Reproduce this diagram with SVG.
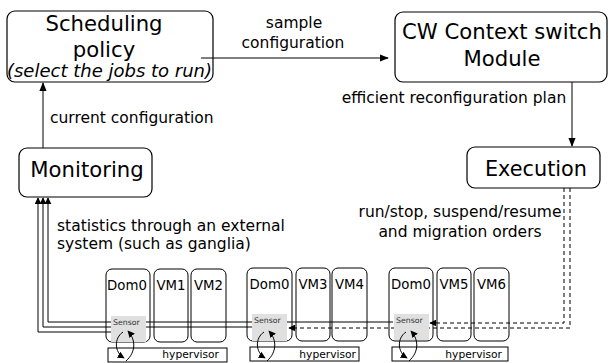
<svg xmlns="http://www.w3.org/2000/svg" width="609" height="363" viewBox="0 0 609 363">
<defs>
<style>
text{font-family:"DejaVu Sans",Verdana,sans-serif;fill:#000}
.box{fill:none;stroke:#000;stroke-width:1.2}
.big{font-size:21.2px;text-anchor:middle}
.lbl{font-size:15.5px}
.mid{text-anchor:middle}
.vm{fill:none;stroke:#000;stroke-width:1}
.dom{font-size:13.3px;text-anchor:middle}
.sensor{fill:#e0e0e0;stroke:none}
.stx{font-size:7.8px;fill:#333}
.hyp{fill:none;stroke:#000;stroke-width:1}
.htx{font-size:10.7px;text-anchor:end}
.ln{fill:none;stroke:#000;stroke-width:1}
.dash{fill:none;stroke:#000;stroke-width:1;stroke-dasharray:4,3}
.cyc{fill:none;stroke:#000;stroke-width:1;marker-end:url(#ah)}
</style>
<marker id="ah" viewBox="0 0 10 10" refX="9" refY="5" markerWidth="7" markerHeight="7" markerUnits="userSpaceOnUse" orient="auto">
<path d="M0,0 L10,5 L0,10 z" fill="#000"/>
</marker>
<marker id="ah2" viewBox="0 0 10 10" refX="9" refY="5" markerWidth="9" markerHeight="9" markerUnits="userSpaceOnUse" orient="auto">
<path d="M0,1 L10,5 L0,9 z" fill="#000"/>
</marker>
<g id="cycle">
<path class="cyc" d="M 17 332 C 8 338, 8 352, 18 358"/>
<path class="cyc" d="M 20 361 C 30 352, 30 340, 22 331"/>
</g>
</defs>

<g id="connectors">
<path class="ln" d="M 201 58 H 388" marker-end="url(#ah2)"/>
<path class="ln" d="M 572 82 V 146" marker-end="url(#ah2)"/>
<path class="ln" d="M 43 148 V 83" marker-end="url(#ah2)"/>
<path class="ln" d="M 393 322 H 48 V 198" marker-end="url(#ah)"/>
<path class="ln" d="M 252 327 H 43 V 198" marker-end="url(#ah)"/>
<path class="ln" d="M 111 332 H 38 V 198" marker-end="url(#ah)"/>
<path class="dash" d="M 564 188 V 323 H 430" marker-end="url(#ah)"/>
<path class="dash" d="M 570 188 V 328 H 289" marker-end="url(#ah)"/>
</g>

<g id="labels">
<text class="lbl mid" x="294" y="28">sample</text>
<text class="lbl mid" x="293" y="48">configuration</text>
<text class="lbl mid" x="454" y="103">efficient reconfiguration plan</text>
<text class="lbl" x="50" y="122.5">current configuration</text>
<text class="lbl" x="57" y="231">statistics through an external</text>
<text class="lbl" x="57" y="249">system (such as ganglia)</text>
<text class="lbl mid" x="460" y="217">run/stop, suspend/resume</text>
<text class="lbl mid" x="460" y="237">and migration orders</text>
</g>

<g id="scheduling">
<rect class="box" x="7" y="11" width="206" height="71" rx="8"/>
<text class="big" x="104" y="30.5">Scheduling</text>
<text class="big" x="104" y="56.5">policy</text>
<text x="109.5" y="76.5" style="font-size:18px;font-style:italic;text-anchor:middle">(select the jobs to run)</text>
</g>

<g id="cw">
<rect class="box" x="395" y="12" width="212" height="70" rx="8"/>
<text class="big" x="502" y="39">CW Context switch</text>
<text class="big" x="502" y="65.5">Module</text>
</g>

<g id="monitoring">
<rect class="box" x="19" y="148" width="133" height="49" rx="8"/>
<text class="big" x="87" y="176.5">Monitoring</text>
</g>

<g id="execution">
<rect class="box" x="467" y="147" width="133" height="41" rx="8"/>
<text class="big" x="536" y="176" style="font-size:20.8px">Execution</text>
</g>

<g id="host1">
<rect class="vm" x="106" y="269" width="44" height="73" rx="6"/>
<rect class="sensor" x="111" y="316" width="35" height="26"/>
<text class="dom" x="127" y="290">Dom0</text>
<text class="stx" x="113" y="324.5">Sensor</text>
<rect class="vm" x="154" y="269" width="34" height="73" rx="6"/>
<text class="dom" x="171" y="290">VM1</text>
<rect class="vm" x="191" y="269" width="35" height="73" rx="6"/>
<text class="dom" x="208.5" y="290">VM2</text>
<rect class="hyp" x="108" y="348" width="119" height="14"/>
<text class="htx" x="219" y="358">hypervisor</text>
<use href="#cycle" x="106" y="0"/>
</g>

<g id="host2">
<rect class="vm" x="247" y="268" width="45" height="73" rx="6"/>
<rect class="sensor" x="252" y="314" width="35" height="27"/>
<text class="dom" x="269.5" y="289">Dom0</text>
<text class="stx" x="254" y="322.5">Sensor</text>
<rect class="vm" x="296" y="268" width="34" height="73" rx="6"/>
<text class="dom" x="313" y="289">VM3</text>
<rect class="vm" x="332" y="268" width="35" height="73" rx="6"/>
<text class="dom" x="349.5" y="289">VM4</text>
<rect class="hyp" x="250" y="347" width="109" height="14"/>
<text class="htx" x="356" y="358">hypervisor</text>
<use href="#cycle" x="247" y="0"/>
</g>

<g id="host3">
<rect class="vm" x="389" y="268" width="44" height="73" rx="6"/>
<rect class="sensor" x="394" y="314" width="35" height="26"/>
<text class="dom" x="411" y="289">Dom0</text>
<text class="stx" x="396" y="322.5">Sensor</text>
<rect class="vm" x="437" y="268" width="34" height="73" rx="6"/>
<text class="dom" x="454" y="289">VM5</text>
<rect class="vm" x="474" y="268" width="35" height="73" rx="6"/>
<text class="dom" x="491.5" y="289">VM6</text>
<rect class="hyp" x="392" y="347" width="116" height="14"/>
<text class="htx" x="502" y="358">hypervisor</text>
<use href="#cycle" x="389" y="0"/>
</g>
</svg>
